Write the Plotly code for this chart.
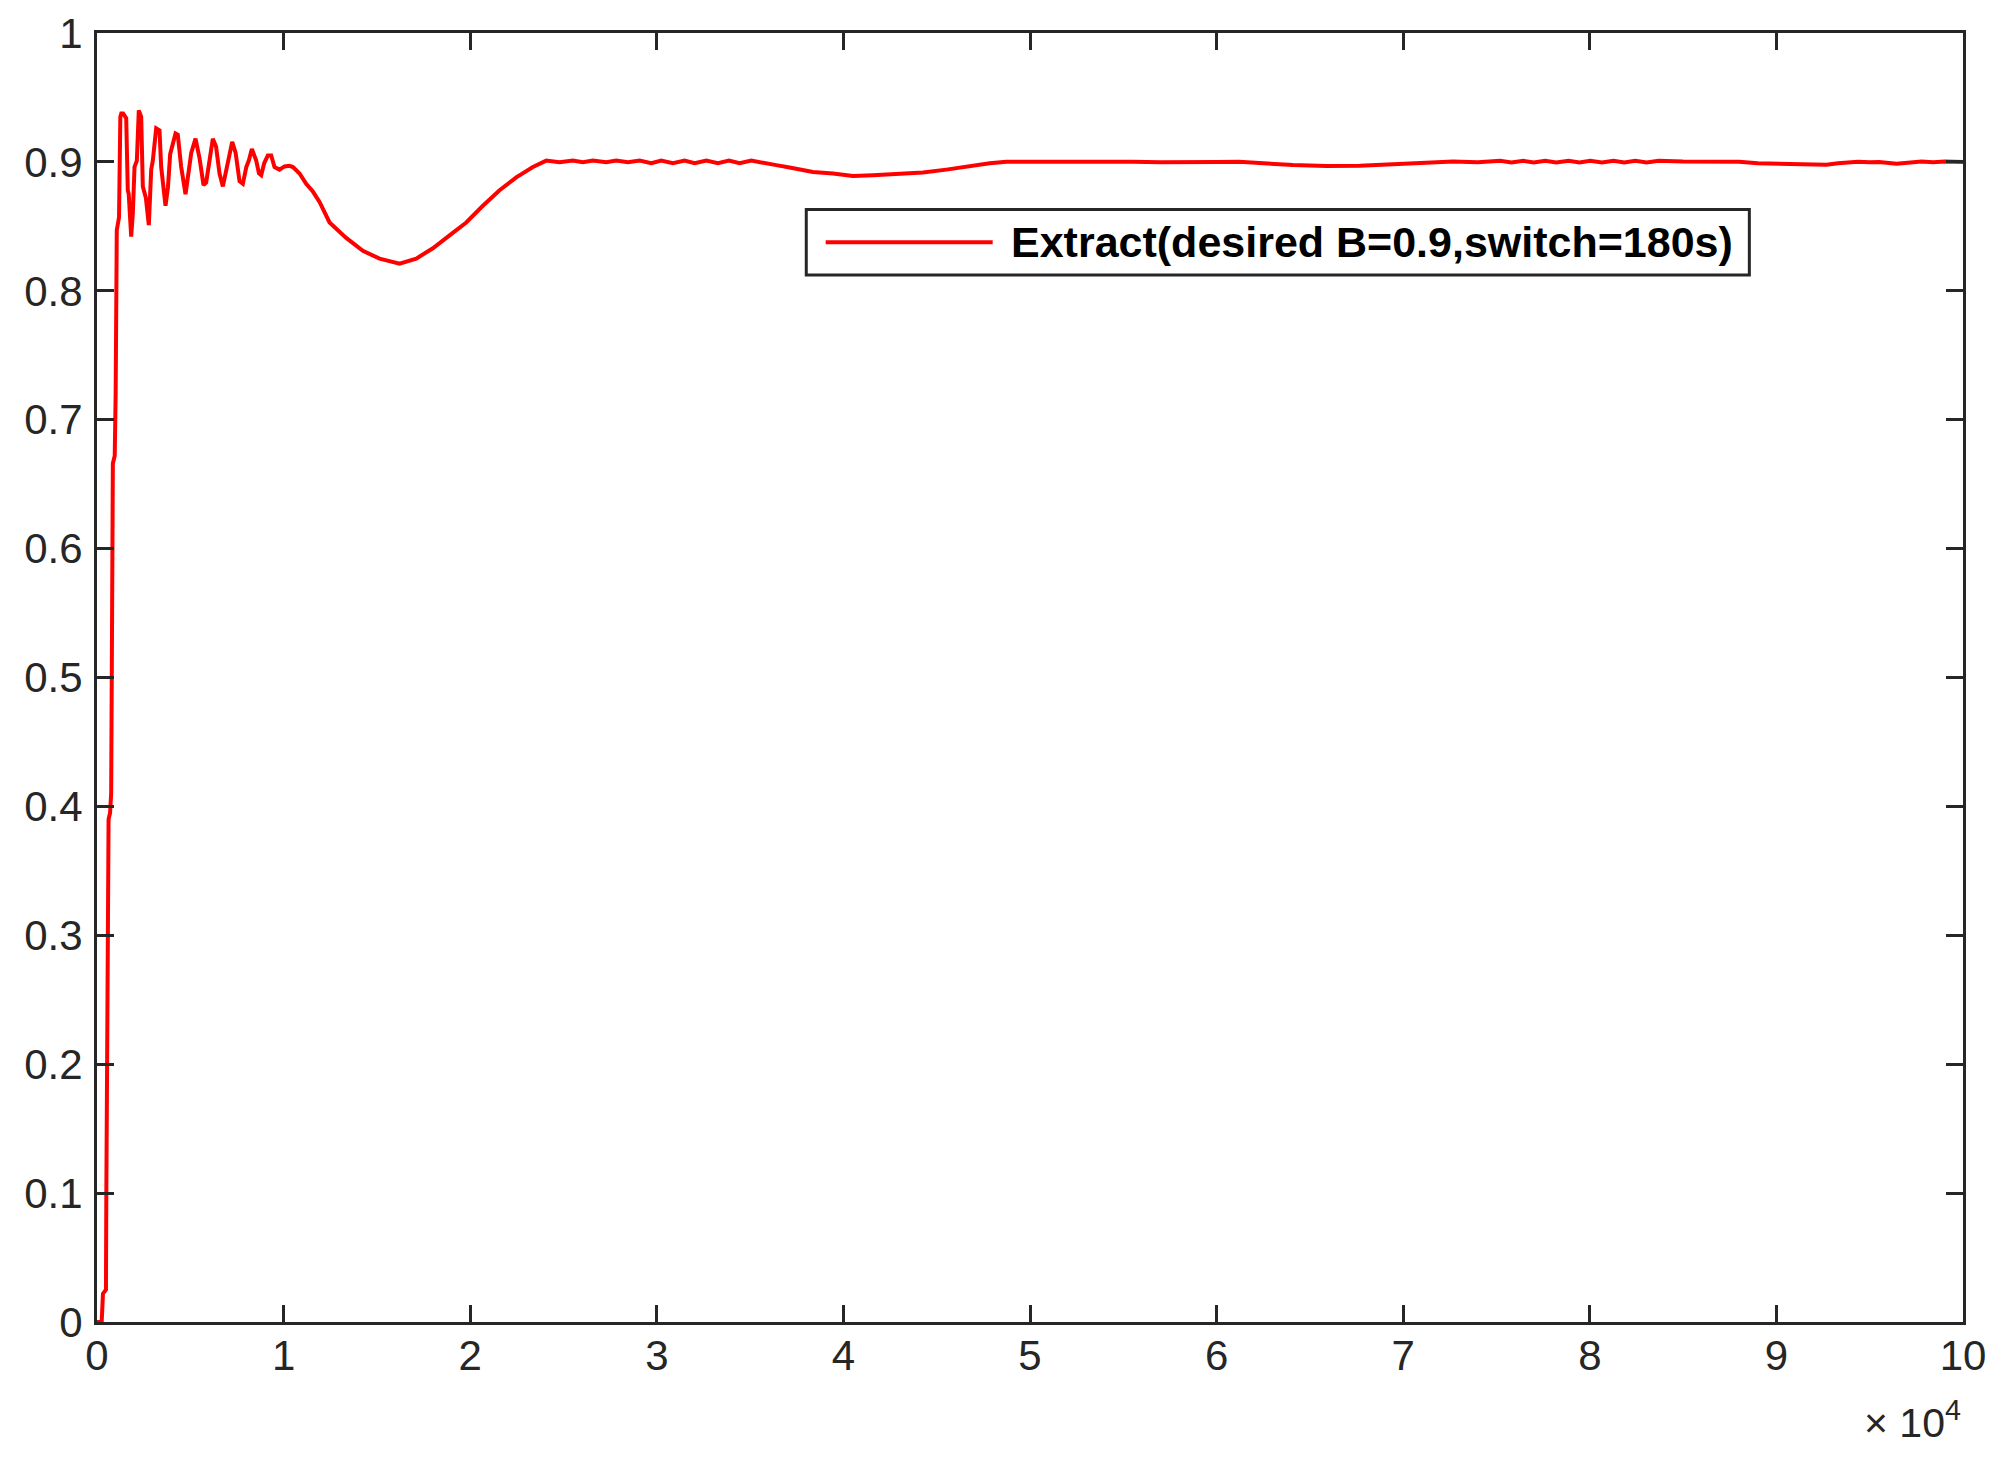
import plotly.graph_objects as go

# time in seconds
t = [0, 250, 320, 480, 500, 560, 620, 700, 760, 850, 950, 1000, 1060, 1120, 1180,
     1250, 1300, 1400, 1500, 1565, 1650, 1700, 1833, 1920, 2010, 2135, 2240, 2368,
     2455, 2620, 2777, 2905, 2991, 3172, 3350, 3440, 3672, 3800, 3922, 4208, 4330,
     4512, 4744, 4922, 5050, 5280, 5494, 5708, 5850, 6030, 6207, 6380, 6566, 6745,
     6900, 7030, 7245, 7430, 7638, 7816, 8000, 8137, 8298, 8533, 8680, 8800, 8960,
     9155, 9335, 9514, 9782, 10050, 10318, 10500, 10854, 11211, 11569, 11926,
     12462, 13356, 14247, 15142, 16214, 17109, 18000, 18894, 19789, 20680, 21574,
     22469, 23360, 24077, 24790, 25503, 26039, 26575, 27290, 27826, 28452, 29080,
     29705, 30240, 30863, 31490, 32026, 32652, 33275, 33867, 34438, 35065, 35690,
     36400, 37118, 38369, 39440, 40512, 41584, 43014, 44265, 45516, 46946, 47840,
     48733, 50000, 51300, 52662, 54000, 55500, 57000, 58500, 60000, 61200, 61950,
     63000, 64095, 65884, 67669, 69455, 70886, 72672, 74000, 75196, 75800, 76445,
     77000, 77609, 78200, 78860, 79450, 80022, 80650, 81272, 81850, 82436, 83050,
     83686, 85000, 86700, 88000, 89000, 90000, 91500, 92680, 93300, 94376,
     95000, 95500, 96437, 97777, 98400, 99028, 100000]

extract = [0, 0, 0.022, 0.025, 0.10, 0.25, 0.39, 0.395, 0.41, 0.666, 0.672, 0.72, 0.847, 0.852, 0.857,
           0.935, 0.9375, 0.9375, 0.936, 0.934, 0.878, 0.875, 0.842, 0.860, 0.896, 0.901, 0.940, 0.935,
           0.881, 0.872, 0.851, 0.894, 0.901, 0.926, 0.9245, 0.896, 0.866, 0.880, 0.906, 0.922, 0.921,
           0.896, 0.875, 0.896, 0.907, 0.918, 0.903, 0.882, 0.884, 0.901, 0.918, 0.912, 0.891, 0.881,
           0.891, 0.901, 0.9155, 0.907, 0.885, 0.883, 0.896, 0.901, 0.910, 0.901, 0.891, 0.8896, 0.899,
           0.905, 0.905, 0.896, 0.894, 0.8965, 0.897, 0.896, 0.891, 0.883, 0.877, 0.869,
           0.853, 0.841, 0.831, 0.825, 0.821, 0.825, 0.833, 0.843, 0.853, 0.866, 0.878,
           0.888, 0.896, 0.901, 0.8997, 0.9010, 0.8997, 0.9010, 0.8997, 0.9010, 0.8997, 0.9010,
           0.8990, 0.9010, 0.8990, 0.9010, 0.8990, 0.9010, 0.8990, 0.9010, 0.8990, 0.9010, 0.899,
           0.8975, 0.8956, 0.8922, 0.891, 0.8891, 0.8897, 0.891, 0.8917, 0.894, 0.8973, 0.899,
           0.9001, 0.9002, 0.8998, 0.9002, 0.8998, 0.9002, 0.8998, 0.9002, 0.8999, 0.9001, 0.8995,
           0.898, 0.8975, 0.8968, 0.897, 0.8982, 0.8992, 0.9003, 0.8998, 0.9008, 0.8995, 0.9008,
           0.8995, 0.9008, 0.8995, 0.9008, 0.8995, 0.9008, 0.8995, 0.9008, 0.8995, 0.9008, 0.8995,
           0.9008, 0.9003, 0.9003, 0.9002, 0.899, 0.8985, 0.8984, 0.8978, 0.899, 0.9002,
           0.8997, 0.9, 0.8985, 0.9003, 0.8997, 0.9003, 0.9]

x_tickvals = [0, 10000, 20000, 30000, 40000, 50000, 60000, 70000, 80000, 90000, 100000]
x_ticktext = ["0", "1", "2", "3", "4", "5", "6", "7", "8", "9", "10"]
y_tickvals = [0, 0.1, 0.2, 0.3, 0.4, 0.5, 0.6, 0.7, 0.8, 0.9, 1]
y_ticktext = ["0", "0.1", "0.2", "0.3", "0.4", "0.5", "0.6", "0.7", "0.8", "0.9", "1"]
legend_label = "Extract(desired B=0.9,switch=180s)"

AX = "#262626"
RED = "#ff0000"
FONT = "Liberation Sans, Arial, sans-serif"

fig = go.Figure()
fig.add_trace(go.Scatter(x=t, y=extract, mode="lines", name=legend_label,
                         line=dict(color=RED, width=4), showlegend=False))

axis_common = dict(showline=True, linecolor=AX, linewidth=3, mirror="ticks",
                   ticks="inside", ticklen=17, tickwidth=3, tickcolor=AX,
                   showgrid=False, zeroline=False, automargin=False,
                   tickfont=dict(family=FONT, size=42, color=AX))

fig.update_xaxes(range=[0, 100000], tickvals=x_tickvals, ticktext=x_ticktext,
                 ticklabelstandoff=-5, **axis_common)
fig.update_yaxes(range=[0, 1], tickvals=y_tickvals, ticktext=y_ticktext,
                 ticklabelstandoff=3, **axis_common)

# manual legend box (MATLAB style, long line sample)
lx0, lx1, ly0, ly1 = 0.3801, 0.8855, 0.8122, 0.8630
ly = (ly0 + ly1) / 2
fig.add_shape(type="rect", xref="paper", yref="paper", x0=lx0, x1=lx1, y0=ly0, y1=ly1,
              line=dict(color=AX, width=3), fillcolor="white", layer="above")
fig.add_shape(type="line", xref="paper", yref="paper", x0=0.3905, x1=0.480, y0=ly, y1=ly,
              line=dict(color=RED, width=4), layer="above")
fig.add_annotation(xref="paper", yref="paper", x=0.4889, y=ly, xanchor="left", yanchor="middle",
                   text=legend_label, showarrow=False,
                   font=dict(family=FONT, size=43, color="black", weight="bold"))

# x10^4 exponent label
fig.add_annotation(xref="paper", yref="paper", x=1.0, y=-0.076, xanchor="right", yanchor="middle",
                   text="× 10<sup>4</sup>", showarrow=False,
                   font=dict(family=FONT, size=41, color=AX))

fig.update_layout(width=1998, height=1450, paper_bgcolor="white", plot_bgcolor="white",
                  margin=dict(l=89, r=43, t=25, b=136, autoexpand=False), showlegend=False)

fig.write_html("out.html")
